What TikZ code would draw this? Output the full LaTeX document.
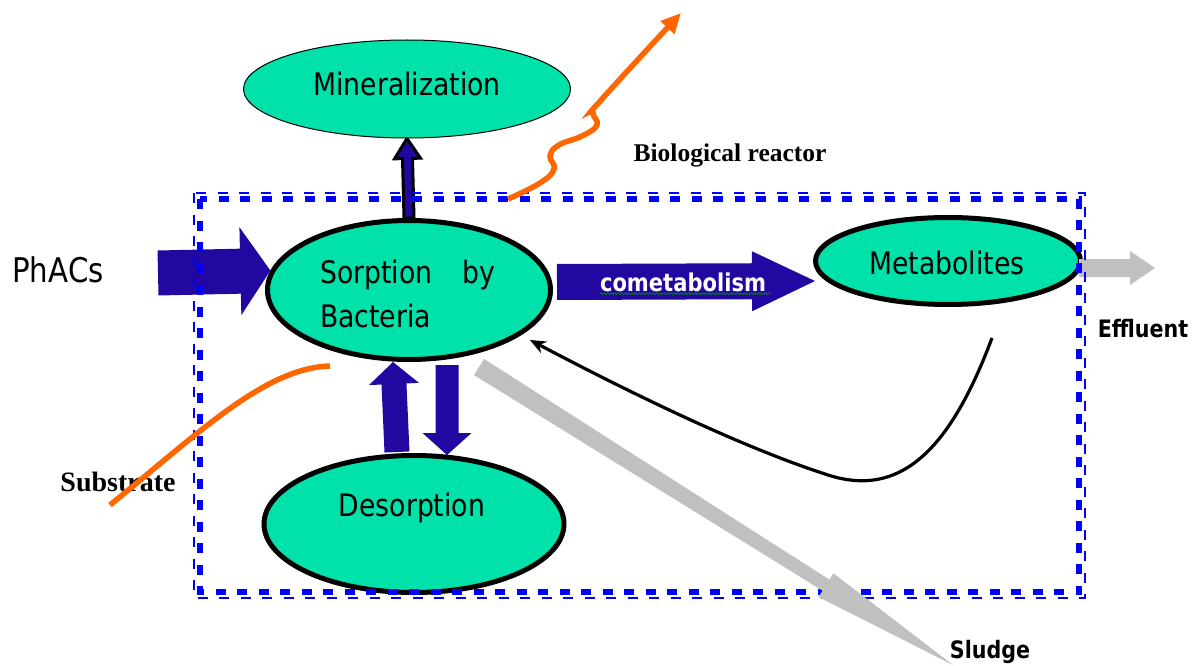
\documentclass[tikz,border=0pt]{standalone}
\usepackage{fontspec}
\usetikzlibrary{shapes.geometric,arrows.meta,calc,backgrounds,decorations.pathmorphing}
\newfontfamily\tah[FakeStretch=0.86]{DejaVu Sans}
\newfontfamily\tms{Liberation Serif}
\definecolor{tealg}{RGB}{0,226,170}
\definecolor{indig}{RGB}{34,8,160}
\definecolor{orng}{RGB}{255,102,0}
\definecolor{lgray}{RGB}{192,192,192}
\definecolor{bblue}{RGB}{0,0,255}
% block arrow: #2 start, #3 tip, #4 shaft half width, #5 head half width, #6 head length
\newcommand\blockarr[6][]{%
  \coordinate (hb) at ($(#3)!#6!(#2)$);
  \path[#1] ($(#2)!#4!90:(#3)$) -- ($(hb)!#4!90:(#3)$) -- ($(hb)!#5!90:(#3)$) -- (#3)
    -- ($(hb)!#5!-90:(#3)$) -- ($(hb)!#4!-90:(#3)$) -- ($(#2)!#4!-90:(#3)$) -- cycle;}
% tapered arrow: #2 start, #3 tip, #4 start half width, #5 half width at head, #6 head half width, #7 head length
\newcommand\taperarr[7][]{%
  \coordinate (hb) at ($(#3)!#7!(#2)$);
  \path[#1] ($(#2)!#4!90:(#3)$) -- ($(hb)!#5!90:(#3)$) -- ($(hb)!#6!90:(#3)$) -- (#3)
    -- ($(hb)!#6!-90:(#3)$) -- ($(hb)!#5!-90:(#3)$) -- ($(#2)!#4!-90:(#3)$) -- cycle;}
\tikzset{
  ellthick/.style={ellipse, draw=black, line width=5pt, fill=tealg, inner sep=0pt},
  ellthin/.style={ellipse, draw=black, line width=1pt, fill=tealg, inner sep=0pt},
  txt/.style={font=\tah\fontsize{31}{44}\selectfont, inner sep=0pt},
  lbl/.style={font=\tah\bfseries\fontsize{24}{28}\selectfont, inner sep=0pt},
  slbl/.style={font=\tms\bfseries\fontsize{25.5}{30}\selectfont, inner sep=0pt},
  indarr/.style={fill=indig},
  mnarr/.style={fill=indig, draw=black, line width=3pt, line join=miter},
  grarr/.style={fill=lgray},
  bthick/.style={draw=bblue, line width=6.5pt, dash pattern=on 10pt off 11.5pt},
  bthin/.style={draw=bblue, line width=2pt, dash pattern=on 10pt off 11.5pt},
  orline/.style={draw=orng, line width=5.5pt},
  fbline/.style={draw=black, line width=3.2pt, -{Stealth[length=16pt,width=13pt]}},
}
\begin{document}
\begin{tikzpicture}[x=1pt,y=-1pt]
\useasboundingbox (0,0) rectangle (1202,666);

% ellipses
\node[ellthin, minimum width=327, minimum height=98] (miner) at (407,89) {};
\node[txt] (minerT) at (407,84) {Mineralization};
\node[ellthick, minimum width=283, minimum height=139] (sorp) at (409,290) {};
\node[txt, anchor=north west] (sorpT) at (320,259.5) {\makebox[175pt][s]{Sorption\hfill by}};
\node[txt, anchor=north west] (sorpT2) at (320,303.5) {Bacteria};
\node[ellthick, minimum width=300, minimum height=137] (desorp) at (414,524) {};
\node[txt] (desorpT) at (412,508) {Desorption};
\node[ellthick, minimum width=265, minimum height=87] (metab) at (948,261) {};
\node[txt] (metabT) at (947,263) {Metabolites};

% labels
\node[font=\tah\fontsize{34}{40}\selectfont, inner sep=0pt] (phacs) at (58,270) {PhACs};
\node[slbl] (bio) at (730,155) {Biological reactor};
\node[slbl, font=\tms\bfseries\fontsize{28}{32}\selectfont] (subs) at (118,482) {Substrate};
\node[lbl] (eff) at (1143,329) {Effluent};
\node[lbl] (sludge) at (990,652) {Sludge};

% named points
\coordinate (phA) at (158,273);
\coordinate (coA) at (557,282);
\coordinate (coB) at ($(metab.west)+(2,20)$);
\coordinate (upA) at ($(desorp.north)+(-17,-1)$);
\coordinate (upB) at ($(sorp.south)+(-16,0)$);
\coordinate (dnA) at ($(sorp.south)+(38,3)$);
\coordinate (dnB) at ($(desorp.north)+(33,2)$);
\coordinate (efA) at ($(metab.east)+(-4,7)$);
\coordinate (efB) at (1155,268);
\coordinate (slA) at ($(sorp.south)+(70,5)$);
\coordinate (slB) at (953,665);
\coordinate (fbA) at (992,338);
\coordinate (orA) at (508,199);
\coordinate (orB) at (681,13);
\coordinate (suA) at (110,505);
\coordinate (suB) at (330,366);

\begin{pgfonlayer}{background}
  \blockarr[indarr]{phA}{sorp.172}{22.5pt}{44pt}{30pt}
  \blockarr[indarr]{coA}{coB}{18pt}{30pt}{63pt}
  \blockarr[indarr]{upA}{upB}{12.5pt}{25pt}{22pt}
  \blockarr[indarr]{dnA}{dnB}{11.5pt}{24.5pt}{22pt}
  \blockarr[mnarr]{sorp.north}{miner.south}{5pt}{13pt}{20pt}
\end{pgfonlayer}

\node[font=\tah\bfseries\fontsize{24.5}{28}\selectfont, text=white, inner sep=0pt] (cometT) at (683,282) {cometabolism};
\draw[green!55!black, line width=0.7pt, decorate, decoration={snake, amplitude=1pt, segment length=3.5pt}]
  ($(cometT.south west)+(0,2)$) -- ($(cometT.south east)+(4,2)$);

% effluent arrow
\blockarr[grarr]{efA}{efB}{9pt}{17pt}{25pt}

% reactor border
\draw[bthin] (194,193) rectangle (1085,598);
\draw[bthick] (200,199) rectangle (1079,592);

% sludge arrow
\taperarr[grarr]{slA}{slB}{9.5pt}{6.5pt}{14pt}{150pt}

% orange lines
\draw[orline, -{Triangle[length=20pt,width=18pt]}] plot[smooth, tension=0.75] coordinates
  {(orA) (540,183) (554,169) (550,156) (559,145) (582,136) (597,125) (593,112) (602,99) (orB)};
\draw[orline] (suA) .. controls (200,432) and (265,368) .. (suB);

% feedback curve
\draw[fbline, shorten >=10pt] (fbA) .. controls (950,450) and (900,500) .. (825,474)
  .. controls (745,448) and (640,398) .. (sorp.-22);
\end{tikzpicture}
\end{document}
